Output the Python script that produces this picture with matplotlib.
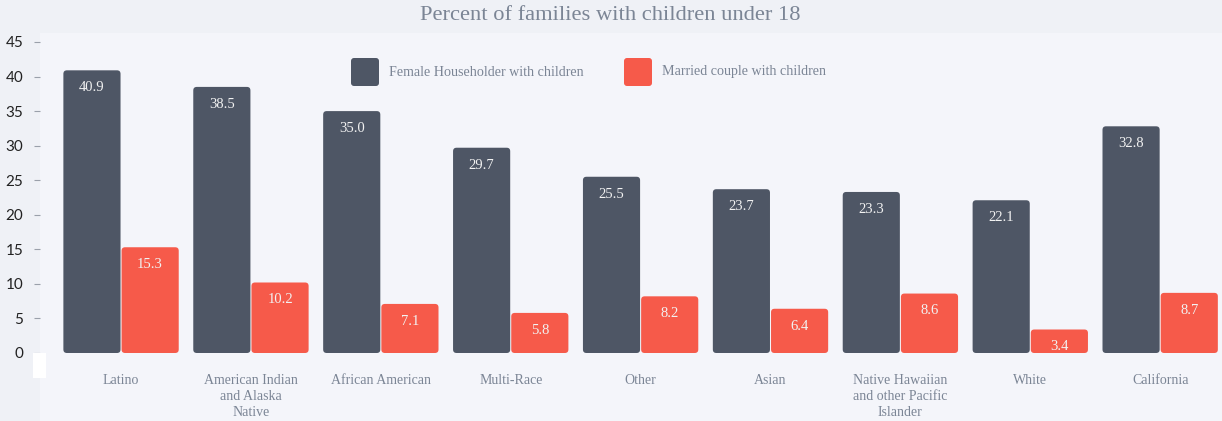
import numpy as np
import matplotlib.pyplot as plt
from matplotlib.patches import FancyBboxPatch, Rectangle

groups = ["Latino", "American Indian\nand Alaska\nNative", "African American", "Multi-Race",
          "Other", "Asian", "Native Hawaiian\nand other Pacific\nIslander", "White", "California"]
female_hh = [40.9, 38.5, 35.0, 29.7, 25.5, 23.7, 23.3, 22.1, 32.8]
married = [15.3, 10.2, 7.1, 5.8, 8.2, 6.4, 8.6, 3.4, 8.7]
series_names = ["Female Householder with children", "Married couple with children"]
yticks = [0, 5, 10, 15, 20, 25, 30, 35, 40, 45]

dark = "#4e5665"
red = "#f65a4a"
grey_txt = "#7b8595"
serif = ["Liberation Serif", "DejaVu Serif"]

W, H = 1222, 421
fig = plt.figure(figsize=(W / 100, H / 100), dpi=100, facecolor="#eff1f6")
ax = fig.add_axes([40 / W, 0, 1 - 40 / W, (421 - 33) / H])
ax.set_facecolor("#f4f5fa")

xlim = (-0.624, 8.476)
ylim = (-9.84, 46.3)
ax.set_xlim(*xlim)
ax.set_ylim(*ylim)

# corner rounding has to look circular even though x/y scales differ
px_x = (xlim[1] - xlim[0]) / (W - 40)
px_y = (ylim[1] - ylim[0]) / (421 - 33)
aspect = px_y / px_x
r = 3.5 * px_x

x = np.arange(len(groups))
bw = 0.44
gap = 0.004
for i, (a, b) in enumerate(zip(female_hh, married)):
    for val, left, col in [(a, i - bw - gap, dark), (b, i + gap, red)]:
        ax.add_patch(FancyBboxPatch((left, 0), bw, val,
                                    boxstyle=f"round,pad=0,rounding_size={r}",
                                    mutation_aspect=aspect, fc=col, ec="none"))
        ax.annotate(f"{val:.1f}", (left + bw / 2, val), xytext=(0, -12.5),
                    textcoords="offset points", ha="center", va="center",
                    color="#f2f2f2", fontsize=10.5, family=serif)
    ax.text(i, -3.1, groups[i], ha="center", va="top", color=grey_txt,
            fontsize=10, family=serif, linespacing=1.3)

for s in ax.spines.values():
    s.set_visible(False)
ax.set_xticks([])
ax.set_yticks(yticks)
ax.tick_params(axis="y", length=4, width=0.8, color="#9aa0aa", pad=8,
               labelsize=11, labelcolor="#222222")
for t in ax.get_yticklabels():
    t.set_family(["Lato", "DejaVu Sans"])

# legend drawn as rounded squares with labels
leg_y = 72
for px, col, name in [(351, dark, series_names[0]), (624, red, series_names[1])]:
    fig.patches.append(FancyBboxPatch((px / W, 1 - 86 / H), 28 / W, 28 / H,
                                      boxstyle=f"round,pad=0,rounding_size={3 / W}",
                                      mutation_aspect=W / H, fc=col, ec="none",
                                      transform=fig.transFigure))
    fig.text((px + 38) / W, 1 - leg_y / H, name, ha="left", va="center",
             color=grey_txt, fontsize=10.1, family=serif)

fig.patches.append(Rectangle((33 / W, 1 - 378 / H), 13 / W, 25 / H, fc="white",
                             ec="none", transform=fig.transFigure))

fig.text(610 / W, 1 - 16 / H, "Percent of families with children under 18",
         ha="center", va="center", color=grey_txt, fontsize=16.2, family=serif)

fig.savefig("out.png", dpi=100, facecolor=fig.get_facecolor())
